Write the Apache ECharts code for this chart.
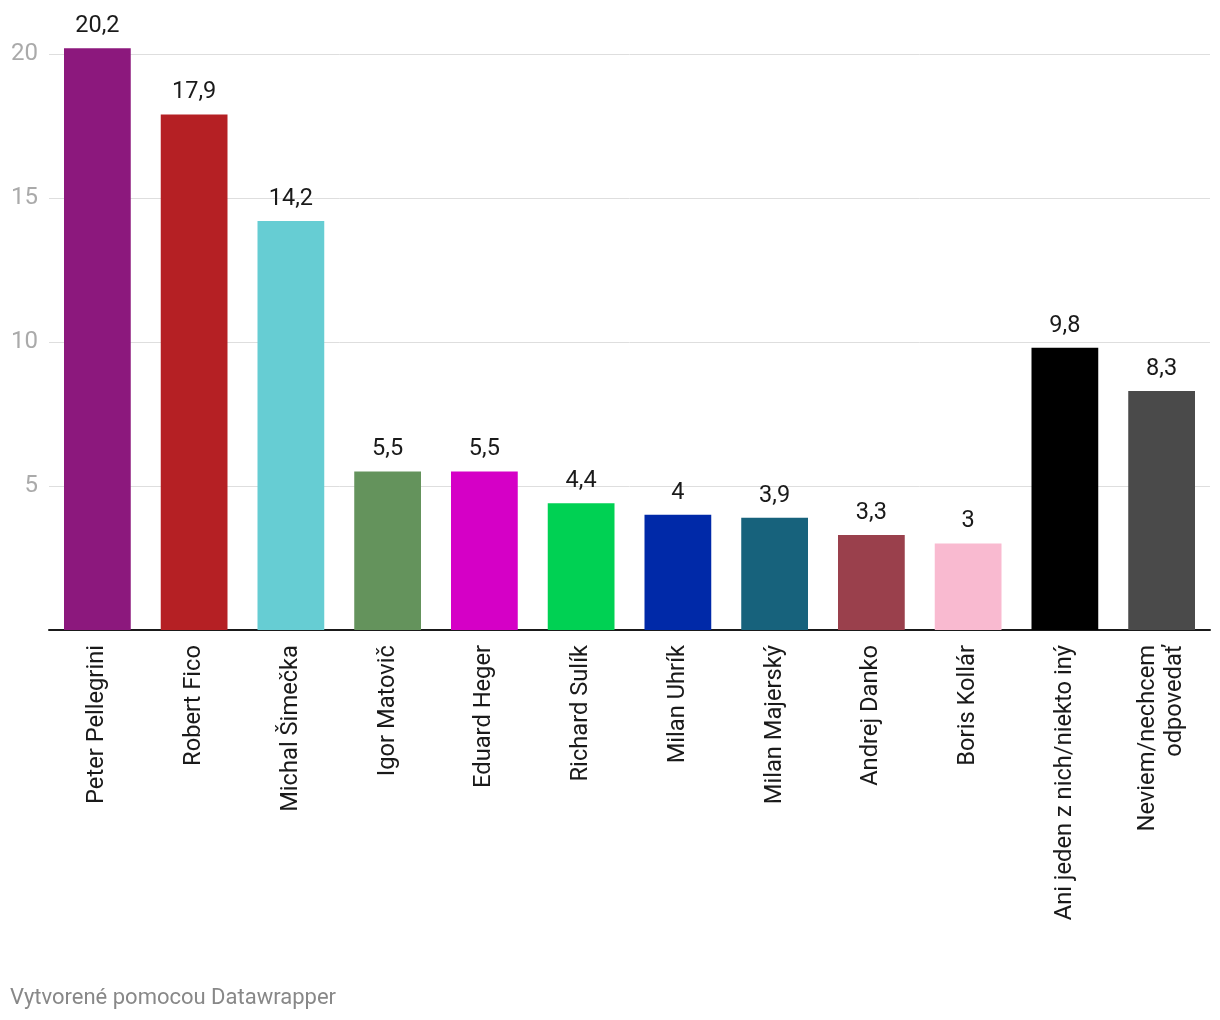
<!DOCTYPE html>
<html>
<head>
<meta charset="utf-8">
<script src="https://cdn.jsdelivr.net/npm/echarts@6/dist/echarts.min.js"></script>
<style>
html,body{margin:0;padding:0;background:#fff;}
#c{width:1220px;height:1020px;}
</style>
</head>
<body>
<div id="c"></div>
<script>
var categories = ['Peter Pellegrini','Robert Fico','Michal Šimečka','Igor Matovič','Eduard Heger','Richard Sulík','Milan Uhrík','Milan Majerský','Andrej Danko','Boris Kollár','Ani jeden z nich/niekto iný','Neviem/nechcem\nodpovedať'];
var values = [20.2,17.9,14.2,5.5,5.5,4.4,4,3.9,3.3,3,9.8,8.3];
var colors = ['#8c187d','#b52024','#66cdd3','#64935c','#d500c6','#00d153','#0029a8','#17627c','#9a404c','#f9bad0','#000000','#4a4a4a'];
var yTicks = [0,5,10,15,20];

var chart = echarts.init(document.getElementById('c'));
chart.setOption({
  animation:false,
  textStyle:{fontFamily:'Roboto'},
  grid:{left:49,right:10,top:54,bottom:390,containLabel:false},
  xAxis:{
    type:'category',
    data:categories,
    axisLine:{lineStyle:{color:'#1a1a1a',width:2}},
    axisTick:{show:false},
    axisLabel:{rotate:90,fontSize:23.7,color:'#1a1a1a',margin:15,interval:0,fontFamily:'Roboto',lineHeight:27}
  },
  yAxis:{
    type:'value',
    min:yTicks[0],max:yTicks[yTicks.length-1],interval:5,
    axisLine:{show:false},axisTick:{show:false},
    splitLine:{lineStyle:{color:'#dedede',width:1}},
    axisLabel:{fontSize:24,color:'#aaaaaa',margin:11,fontFamily:'Roboto',
      formatter:function(v){return v===0?'':String(v);}}
  },
  series:[{
    type:'bar',
    clip:false,
    barWidth:'69%',
    data:values.map(function(v,i){return {value:v,itemStyle:{color:colors[i]}};}),
    label:{show:true,position:'top',distance:10,fontSize:23.5,color:'#1a1a1a',fontFamily:'Roboto',
      formatter:function(p){return String(p.value).replace('.',',');}}
  }],
  graphic:[{
    type:'text',left:10,top:987,
    style:{text:'Vytvorené pomocou Datawrapper',fontSize:22,fill:'#888888',fontFamily:'Roboto'}
  }]
});
</script>
</body>
</html>
